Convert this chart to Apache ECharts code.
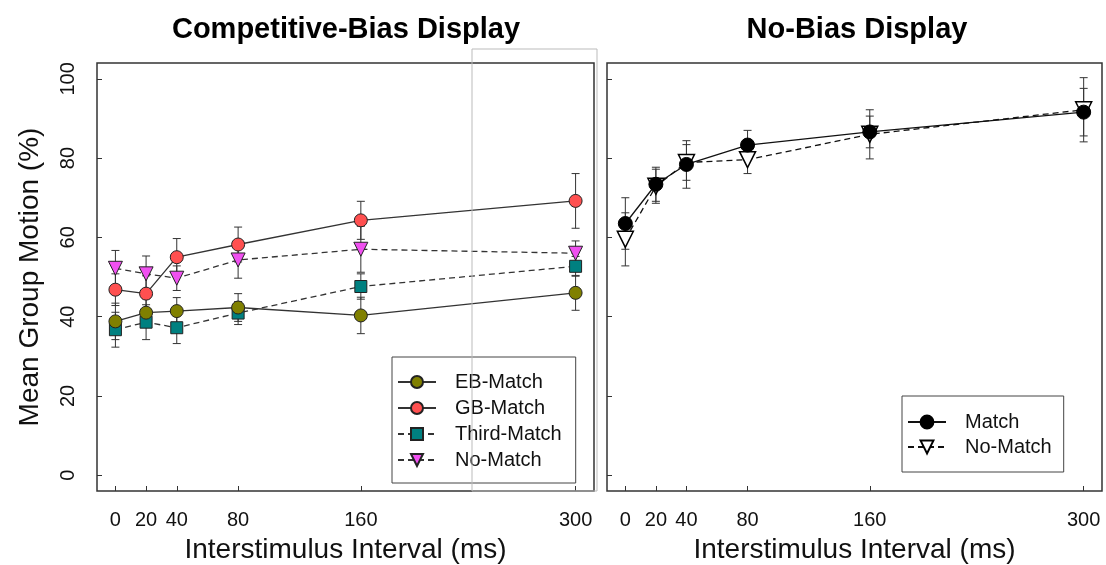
<!DOCTYPE html>
<html>
<head>
<meta charset="utf-8">
<script src="https://cdn.jsdelivr.net/npm/echarts@6/dist/echarts.min.js"></script>
<style>
  html, body { margin: 0; padding: 0; background: #fff; }
  #main { width: 1106px; height: 565px; }
</style>
</head>
<body>
<div id="main"></div>
<script>
// interstimulus intervals (ms)
const isi = [0, 20, 40, 80, 160, 300];
const xTicks = [0, 20, 40, 80, 160, 300];
const yTicks = [0, 20, 40, 60, 80, 100];

// competitive-bias display
const ebMatch = [38.8, 41.0, 41.4, 42.3, 40.3, 46.0];
const ebErr = [4.6, 3.5, 3.4, 3.5, 4.6, 4.4];
const gbMatch = [46.8, 45.8, 55.0, 58.2, 64.3, 69.2];
const gbErr = [4.0, 4.5, 4.7, 4.4, 4.8, 6.9];
const thirdMatch = [36.7, 38.6, 37.2, 40.9, 47.6, 52.7];
const thirdErr = [4.4, 4.4, 4.0, 2.9, 3.2, 2.5];
const noMatchCB = [52.2, 50.8, 49.7, 54.3, 57.0, 56.0];
const noMatchCBErr = [4.5, 4.5, 3.1, 4.6, 5.8, 3.1];

// no-bias display
const match = [63.5, 73.4, 78.4, 83.3, 86.6, 91.6];
const matchErr = [6.5, 4.3, 6.0, 3.7, 4.0, 6.0];
const noMatchNB = [59.5, 72.9, 78.9, 79.6, 86.0, 92.2];
const noMatchNBErr = [6.7, 4.3, 4.5, 3.5, 6.2, 8.1];

const FONT = 'Liberation Sans, Arial, sans-serif';

function pts(vals) {
  return isi.map((x, i) => [x, vals[i]]);
}
function errPts(vals, errs) {
  return isi.map((x, i) => [x, vals[i] - errs[i], vals[i] + errs[i]]);
}

function errorBars(name, vals, errs, axis) {
  return {
    name: name,
    type: 'custom',
    xAxisIndex: axis,
    yAxisIndex: axis,
    z: 1,
    silent: true,
    encode: { x: 0, y: [1, 2] },
    data: errPts(vals, errs),
    renderItem: function (params, api) {
      const x = api.value(0);
      const top = api.coord([x, api.value(2)]);
      const bot = api.coord([x, api.value(1)]);
      const st = { stroke: '#333', lineWidth: 1 };
      return {
        type: 'group',
        children: [
          { type: 'line', shape: { x1: top[0], y1: top[1], x2: bot[0], y2: bot[1] }, style: st },
          { type: 'line', shape: { x1: top[0] - 4, y1: top[1], x2: top[0] + 4, y2: top[1] }, style: st },
          { type: 'line', shape: { x1: bot[0] - 4, y1: bot[1], x2: bot[0] + 4, y2: bot[1] }, style: st }
        ]
      };
    }
  };
}

function lineSeries(name, vals, axis, opts) {
  return {
    name: name,
    type: 'line',
    xAxisIndex: axis,
    yAxisIndex: axis,
    z: 3,
    data: pts(vals),
    symbol: opts.symbol,
    symbolSize: opts.size,
    symbolRotate: opts.rotate || 0,
    showSymbol: true,
    itemStyle: { color: opts.fill, borderColor: opts.border || '#222', borderWidth: opts.bw || 1, opacity: 1 },
    lineStyle: { color: opts.line || '#333', width: 1.3, type: opts.dashed ? [6, 4] : 'solid' },
    emphasis: { disabled: true }
  };
}

function xAxis(grid) {
  return {
    type: 'value',
    gridIndex: grid,
    min: -12,
    max: 312,
    name: 'Interstimulus Interval (ms)',
    nameLocation: 'middle',
    nameGap: 45,
    nameTextStyle: { fontFamily: FONT, fontSize: 28, color: '#111' },
    axisLine: { show: false, onZero: false },
    splitLine: { show: false },
    axisTick: { show: true, inside: true, length: 5, customValues: xTicks, lineStyle: { color: '#333' } },
    axisLabel: { show: true, customValues: xTicks, margin: 19, fontFamily: FONT, fontSize: 20, color: '#111' }
  };
}

function yAxis(grid, labels) {
  return {
    type: 'value',
    gridIndex: grid,
    min: -4,
    max: 104,
    name: labels ? 'Mean Group Motion (%)' : '',
    nameLocation: 'middle',
    nameGap: 53,
    nameTextStyle: { fontFamily: FONT, fontSize: 28, color: '#111' },
    axisLine: { show: false, onZero: false },
    splitLine: { show: false },
    axisTick: { show: true, inside: true, length: 5, customValues: yTicks, lineStyle: { color: '#333' } },
    axisLabel: { show: labels, rotate: 90, customValues: yTicks, margin: 19, fontFamily: FONT, fontSize: 20, color: '#111' }
  };
}

const legendText = { fontFamily: FONT, fontSize: 20, color: '#111', lineHeight: 15, padding: [0, 0, 0, 14] };

const option = {
  animation: false,
  backgroundColor: '#fff',
  title: [
    { text: 'Competitive-Bias Display', left: 346, top: 15, textAlign: 'center', padding: 0,
      textStyle: { fontFamily: FONT, fontSize: 29, fontWeight: 'bold', color: '#000' } },
    { text: 'No-Bias Display', left: 857, top: 15, textAlign: 'center', padding: 0,
      textStyle: { fontFamily: FONT, fontSize: 29, fontWeight: 'bold', color: '#000' } }
  ],
  grid: [
    { left: 97, top: 63, width: 497, height: 428, show: true, borderColor: '#333', borderWidth: 1.5, outerBoundsMode: 'none', containLabel: false },
    { left: 607, top: 63, width: 495, height: 428, show: true, borderColor: '#333', borderWidth: 1.5, outerBoundsMode: 'none', containLabel: false }
  ],
  xAxis: [xAxis(0), xAxis(1)],
  yAxis: [yAxis(0, true), yAxis(1, false)],
  legend: [
    {
      data: ['EB-Match', 'GB-Match', 'Third-Match', 'No-Match '],
      orient: 'vertical', left: 392, top: 357,
      padding: [15, 14, 13, 5],
      itemWidth: 38, itemHeight: 15, itemGap: 6,
      borderColor: '#444', borderWidth: 1, backgroundColor: '#fff',
      selectedMode: false,
      textStyle: legendText
    },
    {
      data: ['Match', 'No-Match'],
      orient: 'vertical', left: 902, top: 396,
      padding: [16, 12, 15, 5],
      itemWidth: 38, itemHeight: 16, itemGap: 5,
      borderColor: '#444', borderWidth: 1, backgroundColor: '#fff',
      selectedMode: false,
      textStyle: legendText
    }
  ],
  graphic: [
    { type: 'rect', z: 100, silent: true, shape: { x: 472, y: 49, width: 125, height: 442 },
      style: { fill: 'none', stroke: '#bbb', lineWidth: 1 } }
  ],
  series: [
    errorBars('eb-err', ebMatch, ebErr, 0),
    errorBars('gb-err', gbMatch, gbErr, 0),
    errorBars('third-err', thirdMatch, thirdErr, 0),
    errorBars('nm-cb-err', noMatchCB, noMatchCBErr, 0),
    errorBars('match-err', match, matchErr, 1),
    errorBars('nm-nb-err', noMatchNB, noMatchNBErr, 1),
    lineSeries('Third-Match', thirdMatch, 0, { symbol: 'rect', size: 12, fill: '#008080', dashed: true }),
    lineSeries('No-Match ', noMatchCB, 0, { symbol: 'triangle', size: 14, rotate: 180, fill: '#f050f0', dashed: true }),
    lineSeries('EB-Match', ebMatch, 0, { symbol: 'circle', size: 13, fill: '#808000' }),
    lineSeries('GB-Match', gbMatch, 0, { symbol: 'circle', size: 13, fill: '#ff5050' }),
    lineSeries('No-Match', noMatchNB, 1, { symbol: 'triangle', size: 16, rotate: 180, fill: '#fff', border: '#000', bw: 1.5, line: '#111', dashed: true }),
    lineSeries('Match', match, 1, { symbol: 'circle', size: 14, fill: '#000', border: '#000', line: '#111' })
  ]
};

const chart = echarts.init(document.getElementById('main'), null, { renderer: 'canvas' });
chart.setOption(option);
</script>
</body>
</html>
